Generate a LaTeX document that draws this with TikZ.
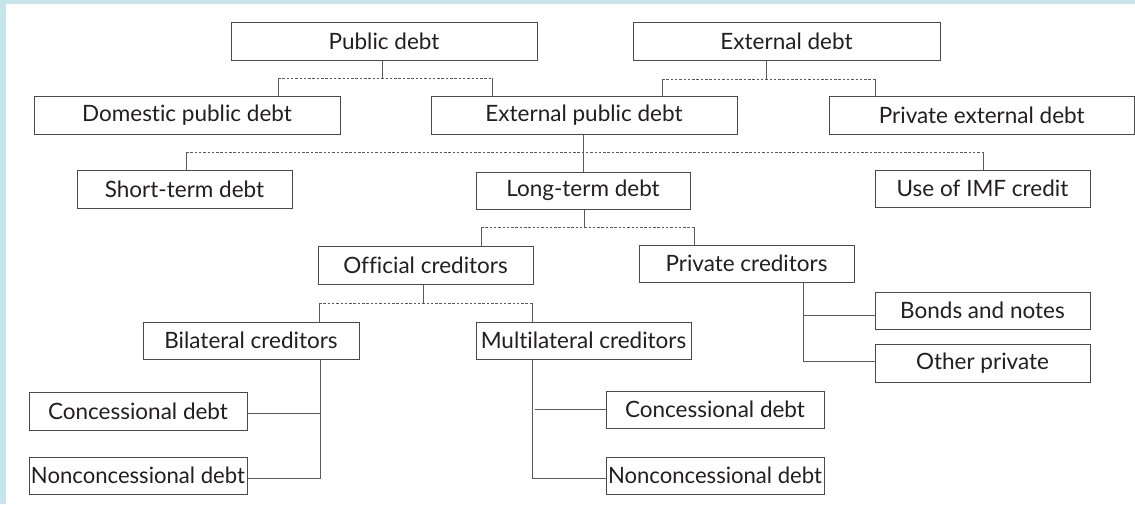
\documentclass[tikz,border=0pt]{standalone}
\usepackage{fontspec}
\usepackage{graphicx}
\setmainfont[Ligatures={NoCommon}]{Lato}
\usetikzlibrary{calc}
\definecolor{frame}{HTML}{C6E5E9}
\definecolor{boxline}{HTML}{4A4A4A}
\definecolor{wire}{HTML}{5A5A5A}
\definecolor{ink}{HTML}{231F20}
\tikzset{
  bx/.style={draw=boxline, line width=1pt, fill=white, rectangle, inner sep=0pt,
     text=ink, font=\fontsize{22.5}{26}\selectfont},
  conn/.style={draw=wire, line width=0.9pt},
  bus/.style={draw=wire, line width=0.9pt, dash pattern=on 2.5pt off 1.8pt},
}
\newcommand{\bxat}[6]{%
  \node[bx, minimum width={#3-#1}, minimum height={#4-#2}] (#5) at ({(#1+#3)/2},{(#2+#4)/2}) {#6};}
\begin{document}
\begin{tikzpicture}[x=1pt,y=-1pt]
\fill[frame] (0,0) rectangle (1135,504);
\fill[white] (6,4) rectangle (1135,504);
\useasboundingbox (0,0) rectangle (1135,504);

\coordinate (b1L) at (278,78);  \coordinate (b1R) at (492,78);
\coordinate (b2L) at (662,79);  \coordinate (b2R) at (875,79);
\coordinate (b3L) at (186,152); \coordinate (b3R) at (983,152); \coordinate (b3M) at (583,152);
\coordinate (b4L) at (481,227); \coordinate (b4R) at (694,227);
\coordinate (b5L) at (319,303); \coordinate (b5R) at (532,303);
\coordinate (biS) at (320,478);
\coordinate (muS) at (532,478);
\coordinate (prS) at (803,361);

\bxat{231}{22}{537}{60}{pub}{Public debt}
\bxat{633}{22}{940}{60}{ext}{External debt}
\bxat{34}{96}{340}{134}{dom}{Domestic public debt}
\bxat{431}{96}{737}{134}{extpub}{External public debt}
\bxat{829}{96}{1134.5}{134}{privext}{Private external debt}
\bxat{77}{170}{292}{208}{short}{Short-term debt}
\bxat{476}{172}{690}{209}{long}{Long-term debt}
\bxat{875}{170}{1090}{207}{imf}{Use of IMF credit}
\bxat{318}{246}{533}{284}{off}{Official creditors}
\bxat{639}{245}{854}{282}{priv}{Private creditors}
\bxat{143}{322}{359}{359}{bi}{Bilateral creditors}
\bxat{476}{322}{691}{359}{multi}{Multilateral creditors}
\bxat{875}{292}{1090}{329}{bonds}{Bonds and notes}
\bxat{875}{344}{1090}{382}{other}{Other private}
\bxat{29}{392}{247}{430}{concA}{Concessional debt}
\bxat{29}{457}{247}{494}{noncA}{\resizebox{214pt}{\height}{Nonconcessional debt}}
\bxat{606}{391}{824}{428}{concB}{Concessional debt}
\bxat{606}{457}{824}{494}{noncB}{\resizebox{214pt}{\height}{Nonconcessional debt}}

% Public debt
\draw[conn] (pub.south -| 382,0) -- (382,78);
\draw[bus] (b1L) -- (b1R);
\draw[conn] (b1L) -- (b1L |- dom.north);
\draw[conn] (b1R) -- (b1R |- extpub.north);
% External debt
\draw[conn] (ext.south -| 766,0) -- (766,79);
\draw[bus] (b2L) -- (b2R);
\draw[conn] (b2L) -- (b2L |- extpub.north);
\draw[conn] (b2R) -- (b2R |- privext.north);
% External public debt
\draw[bus] (b3L) -- (b3R);
\draw[conn] (b3M |- extpub.south) -- (b3M |- long.north);
\draw[conn] (b3L) -- (b3L |- short.north);
\draw[conn] (b3R) -- (b3R |- imf.north);
% Long-term debt
\draw[conn] (long.south -| 584,0) -- (584,227);
\draw[bus] (b4L) -- (b4R);
\draw[conn] (b4L) -- (b4L |- off.north);
\draw[conn] (b4R) -- (b4R |- priv.north);
% Official creditors
\draw[conn] (off.south -| 423,0) -- (423,303);
\draw[bus] (b5L) -- (b5R);
\draw[conn] (b5L) -- (b5L |- bi.north);
\draw[conn] (b5R) -- (b5R |- multi.north);
% Bilateral
\draw[conn] (biS |- bi.south) -- (biS) -- (biS -| noncA.east);
\draw[conn] (concA.east |- 0,413) -- (320,413);
% Multilateral
\draw[conn] (muS |- multi.south) -- (muS) -- (muS -| noncB.west);
\draw[conn] (535,409) -- (concB.west |- 0,409);
% Private creditors
\draw[conn] (prS |- priv.south) -- (prS) -- (prS -| other.west);
\draw[conn] (803,315) -- (bonds.west |- 0,315);
\end{tikzpicture}
\end{document}
